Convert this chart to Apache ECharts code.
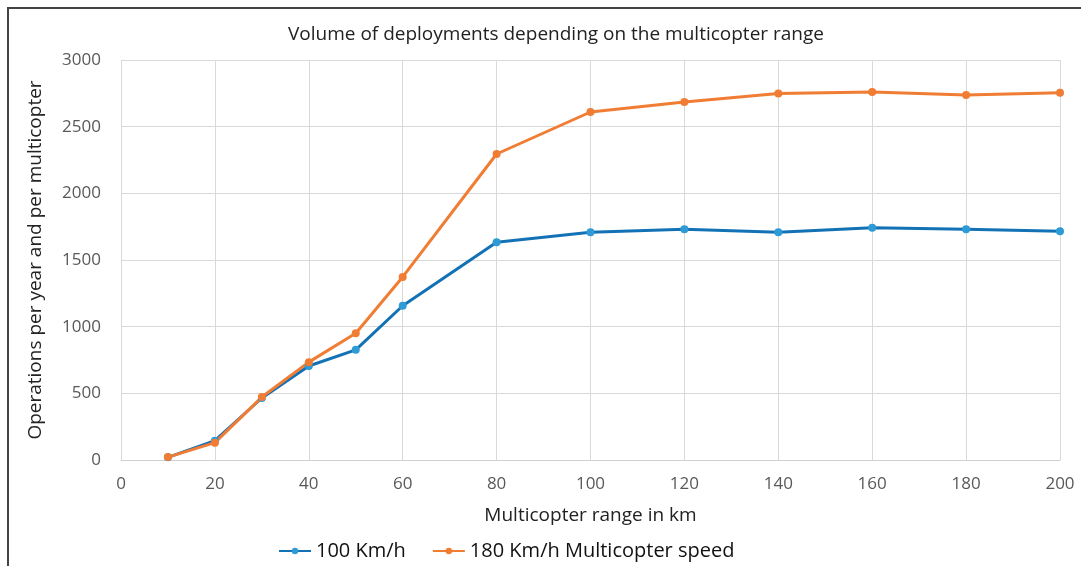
<!DOCTYPE html>
<html>
<head>
<meta charset="utf-8">
<script src="https://cdn.jsdelivr.net/npm/echarts@6/dist/echarts.min.js"></script>
<style>
html,body{margin:0;padding:0;background:#fff;}
#chart{width:1081px;height:566px;}
</style>
</head>
<body>
<div id="chart"></div>
<script>
// range in km
var ranges = [10, 20, 30, 40, 50, 60, 80, 100, 120, 140, 160, 180, 200]
// operations per year, 100 Km/h
var speed100 = [20, 145, 465, 705, 826, 1157, 1633, 1708, 1731, 1708, 1741, 1731, 1716]
// operations per year, 180 Km/h
var speed180 = [22, 130, 472, 734, 950, 1373, 2295, 2610, 2685, 2748, 2760, 2738, 2755]
var seriesNames = ['100 Km/h', '180 Km/h Multicopter speed']

function pairs(vals){
    return ranges.map(function(r, i){ return [r, vals[i]] })
}

var font = 'Open Sans'
var chart = echarts.init(document.getElementById('chart'))
chart.setOption({
    animation: false,
    title: {
        text: 'Volume of deployments depending on the multicopter range',
        left: 283,
        top: 20,
        textStyle: {fontFamily: font, fontSize: 19, fontWeight: 'normal', color: '#222'}
    },
    legend: {
        data: seriesNames,
        bottom: 0,
        left: 273,
        itemWidth: 32,
        itemHeight: 8,
        itemGap: 26,
        textStyle: {fontFamily: font, fontSize: 20, color: '#111'}
    },
    grid: {left: 121, right: 21, top: 60, bottom: 106},
    xAxis: {
        type: 'value',
        min: 0,
        max: 200,
        interval: 20,
        name: 'Multicopter range in km',
        nameLocation: 'middle',
        nameGap: 46,
        nameTextStyle: {fontFamily: font, fontSize: 19, color: '#222'},
        axisLine: {lineStyle: {color: '#d0d0d0'}},
        axisTick: {show: false},
        axisLabel: {fontFamily: font, fontSize: 17, color: '#595959', margin: 16},
        splitLine: {lineStyle: {color: '#d9d9d9'}}
    },
    yAxis: {
        type: 'value',
        min: 0,
        max: 3000,
        interval: 500,
        name: 'Operations per year and per multicopter',
        nameLocation: 'middle',
        nameGap: 76,
        nameTextStyle: {fontFamily: font, fontSize: 19, color: '#222'},
        axisLine: {show: false},
        axisTick: {show: false},
        axisLabel: {
            fontFamily: font, fontSize: 17, color: '#595959', margin: 20,
            formatter: function(v){ return String(v) }
        },
        splitLine: {lineStyle: {color: '#d9d9d9'}}
    },
    graphic: [{
        type: 'rect',
        shape: {x: 8, y: 8, width: 1200, height: 700},
        style: {fill: 'none', stroke: '#444', lineWidth: 2},
        silent: true
    }],
    series: [
        {
            name: seriesNames[0],
            type: 'line',
            data: pairs(speed100),
            symbol: 'circle',
            symbolSize: 8,
            lineStyle: {color: '#1372b5', width: 3},
            itemStyle: {color: '#2e9ad6'}
        },
        {
            name: seriesNames[1],
            type: 'line',
            data: pairs(speed180),
            symbol: 'circle',
            symbolSize: 8,
            lineStyle: {color: '#f07d33', width: 3},
            itemStyle: {color: '#f07d33'}
        }
    ]
})
</script>
</body>
</html>
